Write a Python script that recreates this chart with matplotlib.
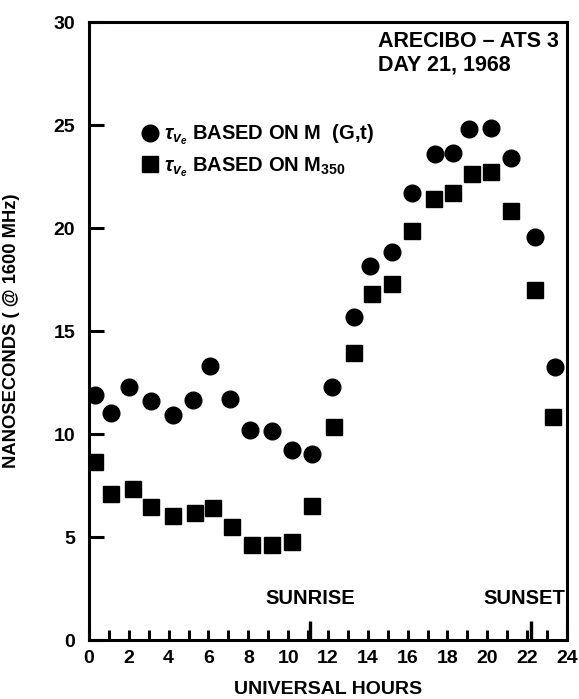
import matplotlib
matplotlib.use("Agg")
import matplotlib.pyplot as plt
from matplotlib.lines import Line2D
from matplotlib.ticker import MultipleLocator

# Values
circle_hours = [0.3, 1.1, 2.0, 3.1, 4.2, 5.2, 6.1, 7.1, 8.1, 9.2, 10.2, 11.2,
                12.2, 13.3, 14.1, 15.2, 16.2, 17.35, 18.3, 19.1, 20.2, 21.2, 22.4, 23.4]
circle_ns = [11.9, 11.0, 12.3, 11.6, 10.9, 11.65, 13.3, 11.7, 10.2, 10.15, 9.2, 9.05,
             12.3, 15.7, 18.15, 18.85, 21.7, 23.6, 23.65, 24.8, 24.85, 23.4, 19.55, 13.25]
square_hours = [0.3, 1.1, 2.2, 3.1, 4.2, 5.3, 6.25, 7.2, 8.2, 9.2, 10.2, 11.2,
                12.3, 13.3, 14.2, 15.2, 16.2, 17.3, 18.3, 19.25, 20.2, 21.2, 22.4, 23.3]
square_ns = [8.66, 7.1, 7.33, 6.44, 6.0, 6.15, 6.4, 5.47, 4.6, 4.6, 4.77, 6.5,
             10.36, 13.95, 16.8, 17.3, 19.85, 21.4, 21.7, 22.6, 22.7, 20.85, 17.0, 10.84]
sunrise_hour = 11.1
sunset_hour = 22.2

plt.rcParams["font.family"] = "Liberation Sans"
plt.rcParams["font.weight"] = "bold"
plt.rcParams["axes.labelweight"] = "bold"
plt.rcParams["mathtext.fontset"] = "custom"
plt.rcParams["mathtext.rm"] = "Liberation Sans:bold"
plt.rcParams["mathtext.it"] = "Liberation Sans:bold:italic"
plt.rcParams["mathtext.bf"] = "Liberation Sans:bold"

fig = plt.figure(figsize=(5.79, 6.99), dpi=100)
ax = fig.add_axes([0.1537, 0.0844, 0.8255, 0.8841])

ax.plot(circle_hours, circle_ns, "o", color="black", markersize=12, linestyle="none")
ax.plot(square_hours, square_ns, "s", color="black", markersize=11, linestyle="none")

ax.set_xlim(0, 24)
ax.set_ylim(0, 30)

for side in ax.spines.values():
    side.set_linewidth(2.2)

# x ticks: labels on even hours, tick marks every hour, drawn inside
ax.xaxis.set_major_locator(MultipleLocator(2))
ax.xaxis.set_minor_locator(MultipleLocator(1))
ax.tick_params(axis="x", which="both", direction="in", length=7, width=2.2,
               pad=7, labelsize=14)
ax.yaxis.set_major_locator(MultipleLocator(5))
ax.tick_params(axis="y", direction="in", length=11, width=2.2, pad=10, labelsize=14)
ax.tick_params(top=False, right=False)

# longer marks for sunrise / sunset
ax.vlines([sunrise_hour, sunset_hour], 0, 0.9, color="black", linewidth=2.4)
ax.text(sunrise_hour, 1.55, "SUNRISE", ha="center", va="bottom", fontsize=14.5)
ax.text(21.85, 1.55, "SUNSET", ha="center", va="bottom", fontsize=14.5)

ax.set_xlabel("UNIVERSAL HOURS", fontsize=14)
ax.xaxis.set_label_coords(0.5, -0.066)
ax.set_ylabel("NANOSECONDS ( @ 1600 MHz)", fontsize=13.2)
ax.yaxis.set_label_coords(-0.144, 0.5)

ax.text(0.605, 0.985, "ARECIBO \u2013 ATS 3\nDAY 21, 1968", transform=ax.transAxes,
        ha="left", va="top", fontsize=15.5, linespacing=1.12)

handles = [
    Line2D([], [], marker="o", color="black", markersize=12, linestyle="none"),
    Line2D([], [], marker="s", color="black", markersize=11, linestyle="none"),
]
labels = [r"$\tau_{v_e}$ BASED ON M  (G,t)", r"$\tau_{v_e}$ BASED ON M$_{350}$"]
ax.legend(handles, labels, loc="upper left", bbox_to_anchor=(0.09, 0.85),
          frameon=False, fontsize=14.5, handletextpad=0.2, labelspacing=0.4,
          handlelength=1.0, borderaxespad=0)

fig.savefig("out.png", dpi=100)
